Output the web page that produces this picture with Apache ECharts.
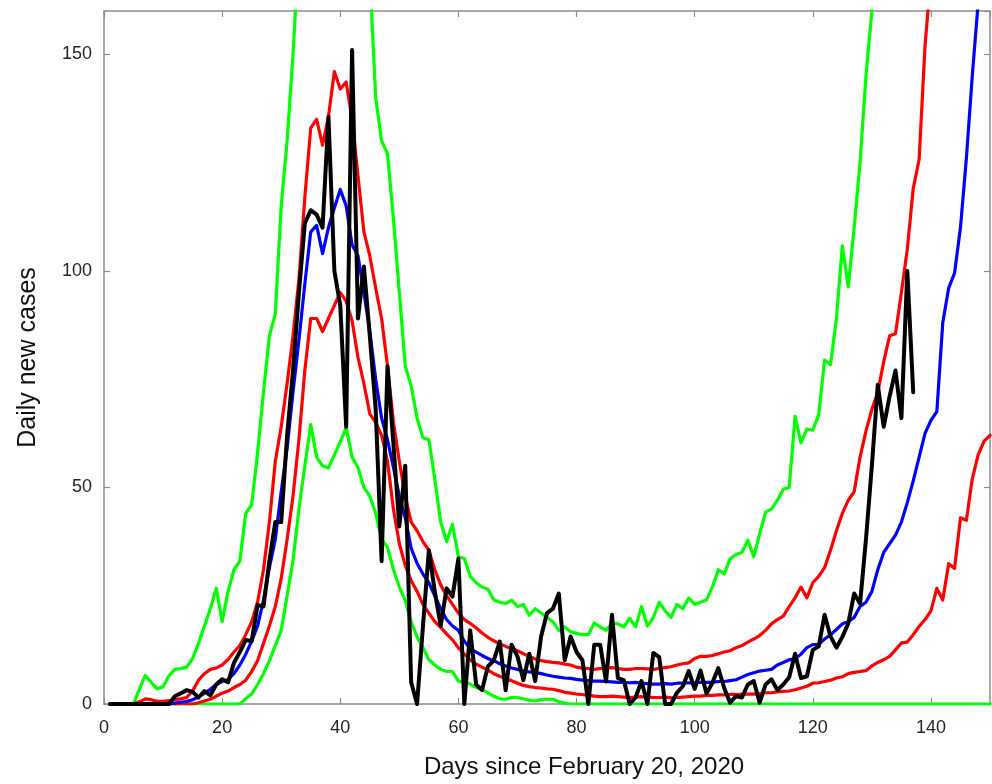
<!DOCTYPE html>
<html>
<head>
<meta charset="utf-8">
<title>Daily new cases</title>
<script src="https://cdn.jsdelivr.net/npm/echarts@6/dist/echarts.min.js"></script>
<style>
  html, body { margin: 0; padding: 0; background: #ffffff; }
  #chart { width: 992px; height: 784px; }
</style>
</head>
<body>
<div id="chart"></div>
<script>
// Model curves start on day 1; observed counts run from day 1 to day 137.
const firstDay = 1;

// Observed daily new cases
const observed = [
  0, 0, 0, 0, 0, 0, 0, 0, 0, 0, 0,
  1.8, 2.5, 3.2, 2.8, 1.5, 3, 2, 4.5, 5.7, 5, 9.5, 12, 14.8, 14.5, 22.9, 22.5, 33, 42, 42,
  62, 77, 95, 111, 114, 113, 110, 135.6, 100, 92, 64, 151, 89, 101, 85, 68, 33, 78, 60, 41,
  55, 5, 0, 18, 35.5, 26, 18, 26.7, 24.8, 33.6, 0, 17, 4.5, 3.2, 8.7, 10.1, 14.4, 3.2, 13.7, 11,
  5.5, 11.6, 5.3, 15.6, 21, 22, 25.5, 10.1, 15.6, 12, 10.1, 0, 13.7, 13.7, 5.2, 20.6, 6, 5.5, 0, 1.5,
  5.3, 0, 11.8, 10.8, 0, 0, 2.6, 4.1, 7.6, 3.5, 7.7, 2.4, 4.9, 8.3, 3.7, 0.3, 1.8, 1.5, 4.5, 5.3,
  0.3, 4.5, 5.7, 3.2, 4.5, 6.2, 11.6, 6, 6.4, 12.5, 13.3, 20.6, 15.6, 13, 15.5, 18.6, 25.5, 23.2, 38, 55,
  73.7, 64, 71, 77, 66, 100, 72
];

// Median projection
const median = [
  0, 0, 0, 0, 0, 0, 0, 0, 0, 0, 0, 0.2, 0.4, 0.6, 1, 1.6, 2.5, 3.4, 4.5, 5.2,
  5.6, 7, 9, 11.5, 14.5, 18, 24, 31.5, 38, 49, 59, 72, 84, 97, 109, 110.5, 104, 110, 114.5, 118.8,
  115, 106, 103.5, 95, 86, 75, 66, 61, 54.6, 48, 43, 36, 32.5, 30, 28, 25, 22, 19.5, 18, 17,
  14.5, 12.8, 12, 11.2, 10.5, 10, 9.3, 8.8, 8.3, 8, 7.6, 7.4, 7.3, 7, 6.7, 6.4, 6.2, 6, 5.9, 5.7,
  5.5, 5.4, 5.3, 5.3, 5.2, 5.1, 5, 5, 4.9, 5, 4.8, 4.7, 4.6, 4.6, 4.7, 4.6, 4.8, 4.8, 4.9, 4.9,
  5, 5, 5, 5.2, 5.2, 5.4, 5.6, 6.2, 6.8, 7.2, 7.6, 7.8, 8, 9, 9.6, 10.2, 10.5, 11.5, 13, 13.7,
  13.8, 15, 16, 17.2, 18.5, 19, 20, 22.5, 23.5, 26, 31, 35, 37, 39, 42, 46.5, 51.5, 57, 62.5, 65.5,
  67.5, 88, 96, 99.5, 110, 126, 145, 162, 185
];

// Inner band, upper edge
const innerUpper = [
  0, 0, 0, 0, 0, 0.5, 1.2, 1, 0.6, 0.6, 0.8, 1, 1.2, 1.5, 3, 5.5, 7, 8, 8.3, 9,
  10.3, 12, 13.5, 16, 19, 23.5, 31, 42, 56, 64, 74, 85, 98, 117, 133, 135, 129, 135.6, 146, 142,
  143.6, 135, 122, 109, 103.5, 96, 89, 78, 65, 56, 48, 42, 40, 37.5, 35.5, 31, 27.5, 25, 23, 21,
  19.5, 18.6, 17.6, 16.4, 15.4, 14.6, 13.9, 13.3, 12.8, 12.3, 11.6, 11, 10.4, 10, 9.8, 9.6, 9.5, 9.2, 9, 8.5,
  8.3, 8.2, 8, 8.2, 8.3, 8.4, 8.2, 8, 8, 8.2, 8.2, 8.1, 8, 8.2, 8.4, 8.6, 9, 9.3, 9.5, 10.5,
  11, 11, 11.2, 11.6, 12, 12.3, 13, 13.5, 14.3, 15, 15.8, 17, 18.5, 19.5, 20.3, 22.5, 24.5, 27, 24.5, 28,
  29.5, 31.5, 35.5, 40, 44, 47, 49, 57, 63, 68, 72, 79, 85, 85.5, 95, 105, 119, 125.7, 152, 168,
  185
];

// Inner band, lower edge
const innerLower = [
  0, 0, 0, 0, 0, 0, 0, 0, 0, 0, 0, 0, 0, 0, 0, 0.3, 0.7, 1.1, 1.8, 2.5,
  3, 3.8, 4.5, 5.5, 7.5, 10, 14, 18, 22.5, 29, 38, 48, 61, 77, 89, 89, 86, 89, 92, 95,
  93, 88.5, 80, 74, 67, 65, 62, 56, 45, 37, 32, 28.5, 26, 23, 21, 19, 17.7, 16.2, 14.8, 13,
  11.5, 10.2, 9.2, 8.5, 7.8, 7, 6.4, 5.8, 5.4, 4.8, 4.3, 4, 3.8, 3.7, 3.5, 3.4, 3.1, 2.7, 2.5, 2.3,
  2.2, 2, 1.8, 1.7, 1.7, 1.8, 1.7, 1.6, 1.5, 1.6, 1.7, 1.6, 1.5, 1.5, 1.6, 1.4, 1.5, 1.6, 1.7, 1.8,
  1.8, 2, 2, 2.1, 2.1, 2.2, 2.2, 2.3, 2.3, 2.3, 2.4, 2.6, 2.6, 2.8, 2.9, 3, 3.3, 3.7, 4.1, 4.8,
  4.9, 5.2, 5.5, 6, 6.3, 7, 7.3, 7.5, 7.7, 8.8, 9.6, 10.2, 11, 12.5, 14.1, 14.3, 16, 17.9, 19.5, 21.5,
  26.7, 24, 32.4, 31.3, 43, 42.4, 52, 57.5, 60.7, 62
];

// Outer band, upper edge
const outerUpper = [
  0, 0, 0, 0, 0, 3.5, 6.6, 5, 3.5, 4, 6.5, 8, 8.2, 8.5, 10.5, 14, 18, 22, 26.7, 19,
  26, 31, 33, 44, 46, 58, 72, 85, 90, 115, 130, 150, 175, 200, 225, 245, 260, 270, 275, 270,
  255, 235, 210, 190, 168, 140, 130, 127, 112, 95, 78, 73.5, 66, 61.5, 61, 52, 42, 37.5, 41.5, 34,
  33.6, 29.5, 28, 27, 26.5, 24, 23.5, 23.2, 24, 22.5, 23, 20.5, 22, 21, 20, 19, 17, 17.8, 16.7, 16.3,
  16, 16, 18.7, 17.8, 17, 18.7, 18.5, 17.8, 19.8, 17.8, 22.5, 18, 20, 23.5, 21.5, 20, 23, 22, 24.5, 23,
  23.5, 24, 27, 31, 30, 33.5, 34.5, 35, 37.8, 34, 39.3, 44.3, 45, 47, 49.6, 50, 66.4, 60.3, 63.5, 63.2,
  66.8, 79.4, 78.3, 89, 105.8, 96.3, 110, 125, 145, 160, 180, 200
];

// Outer band, lower edge
const outerLower = [
  0, 0, 0, 0, 0, 0, 0, 0, 0, 0, 0, 0, 0, 0, 0, 0, 0, 0, 0, 0,
  0, 0, 0, 1.2, 2.3, 4.5, 7, 10, 13.5, 17, 25, 33, 45, 55, 64.5, 57, 55, 54.5, 57.5, 60.5,
  63.8, 57, 54.6, 50, 48, 44, 38, 36.2, 31, 27, 24, 19, 15.5, 13, 10.2, 9, 8, 7.5, 7.5, 5.3,
  5, 4.6, 3.8, 3.4, 2.5, 1.8, 1.2, 1.1, 1.5, 1.5, 1.2, 0.9, 0.7, 1, 1.1, 1.1, 0.5, 0.2, 0, 0,
  0, 0, 0, 0, 0, 0, 0, 0, 0, 0, 0, 0, 0, 0, 0, 0, 0, 0, 0, 0,
  0, 0, 0, 0, 0, 0, 0, 0, 0, 0, 0, 0, 0, 0, 0, 0, 0, 0, 0, 0,
  0, 0, 0, 0, 0, 0, 0, 0, 0, 0, 0, 0, 0, 0, 0, 0, 0, 0, 0, 0,
  0, 0, 0, 0, 0, 0, 0, 0, 0, 0
];

// Axis ticks
const xTickStep = 20;
const yTickStep = 50;

function toPairs(values) {
  return values.map((v, i) => [firstDay + i, v]);
}

const fontFamily = 'Liberation Sans, Arial, Helvetica, sans-serif';
const frameColor = '#8c8c8c';

function lineSeries(name, values, color, width, z) {
  return {
    name: name,
    type: 'line',
    xAxisIndex: 0,
    yAxisIndex: 0,
    data: toPairs(values),
    symbol: 'none',
    clip: true,
    z: z,
    lineStyle: { color: color, width: width, join: 'round', cap: 'round' },
    emphasis: { disabled: true }
  };
}

function frameAxis(extra) {
  return Object.assign({
    type: 'value',
    axisLine: { show: true, onZero: false, lineStyle: { color: frameColor, width: 1.5 } },
    axisTick: { show: true, inside: true, length: 6, lineStyle: { color: frameColor, width: 1.2 } },
    splitLine: { show: false }
  }, extra);
}

const chart = echarts.init(document.getElementById('chart'), null, { renderer: 'canvas' });

chart.setOption({
  animation: false,
  backgroundColor: '#ffffff',
  grid: { left: 104, right: 2, top: 11, bottom: 76, containLabel: false },
  xAxis: [
    frameAxis({
      position: 'bottom', min: 0, max: 150, interval: xTickStep,
      axisLabel: { show: true, showMaxLabel: false, color: '#262626', fontSize: 18, margin: 15, fontFamily: fontFamily },
      name: 'Days since February 20, 2020',
      nameLocation: 'middle',
      nameGap: 51,
      nameTextStyle: { color: '#111111', fontSize: 24, fontFamily: fontFamily, padding: [0, 0, 0, 74] }
    }),
    frameAxis({
      position: 'top', min: 0, max: 150, interval: xTickStep,
      axisLabel: { show: false }
    })
  ],
  yAxis: [
    frameAxis({
      position: 'left', min: 0, max: 160, interval: yTickStep,
      axisLabel: { show: true, showMaxLabel: false, color: '#262626', fontSize: 18, margin: 12, fontFamily: fontFamily },
      name: 'Daily new cases',
      nameLocation: 'middle',
      nameGap: 63,
      nameTextStyle: { color: '#111111', fontSize: 25, fontFamily: fontFamily }
    }),
    frameAxis({
      position: 'right', min: 0, max: 160, interval: yTickStep,
      axisLabel: { show: false }
    })
  ],
  series: [
    lineSeries('Outer band upper', outerUpper, '#00ff00', 3.2, 2),
    lineSeries('Outer band lower', outerLower, '#00ff00', 3.2, 2),
    lineSeries('Inner band upper', innerUpper, '#ff0000', 3.2, 3),
    lineSeries('Inner band lower', innerLower, '#ff0000', 3.2, 3),
    lineSeries('Median', median, '#0000ff', 3.2, 4),
    lineSeries('Observed', observed, '#000000', 4, 5)
  ]
});
</script>
</body>
</html>
